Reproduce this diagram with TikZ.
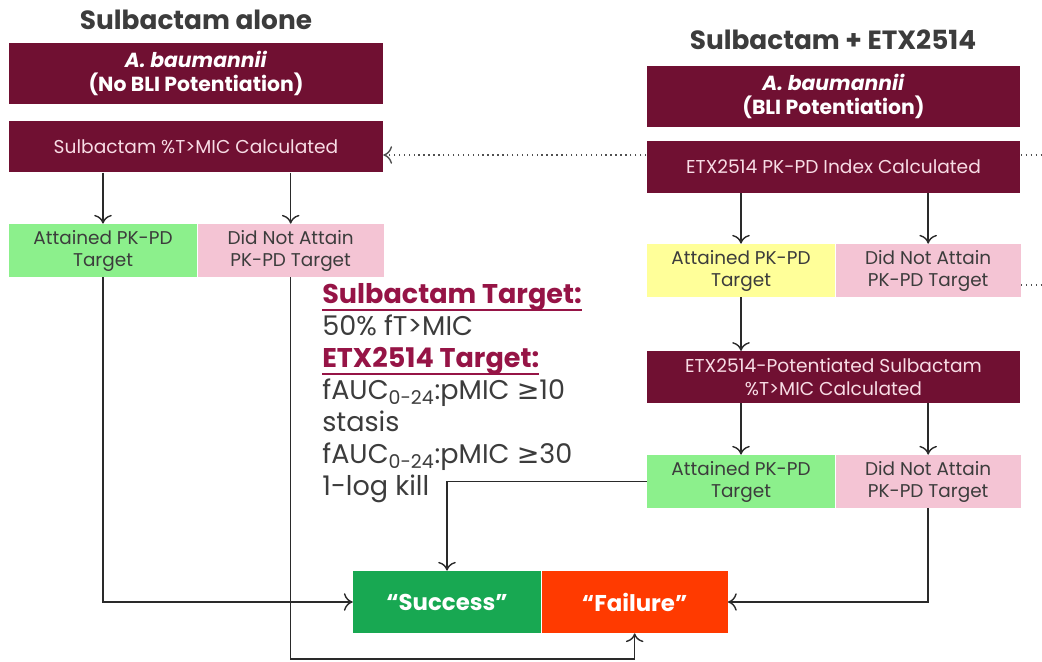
\documentclass[tikz,border=0pt]{standalone}
\usepackage{fontspec}
\setmainfont{Poppins}
\newfontfamily\symfont{DejaVu Sans}
\usetikzlibrary{positioning, arrows.meta}

\newlength\ulwd
\newcommand\myul[1]{\settowidth\ulwd{#1}\rlap{\rule[-4.5pt]{\ulwd}{1.3pt}}#1}

\definecolor{maroon}{RGB}{112,16,50}
\definecolor{headred}{RGB}{150,20,70}
\definecolor{okgreen}{RGB}{140,240,140}
\definecolor{nopink}{RGB}{244,196,212}
\definecolor{okyellow}{RGB}{255,255,153}
\definecolor{succgreen}{RGB}{24,168,82}
\definecolor{failred}{RGB}{255,58,0}
\definecolor{txtgray}{RGB}{60,60,60}

\begin{document}
\begin{tikzpicture}[
        x=0.02cm, y=-0.02cm,
        title/.style    = {font=\bfseries\fontsize{15}{18}\selectfont, text=txtgray},
        head/.style     = {rectangle, fill=maroon, text=white, minimum width=7.48cm,
                           minimum height=1.22cm, align=center, inner sep=1pt,
                           font=\bfseries\fontsize{11.6}{14}\selectfont},
        calc/.style     = {rectangle, fill=maroon, text=nopink!60!white, minimum width=7.48cm,
                           minimum height=1.03cm, align=center, inner sep=1pt,
                           font=\fontsize{10.6}{13}\selectfont},
        result/.style   = {rectangle, text=txtgray, minimum height=1.06cm, align=center,
                           inner sep=1pt, font=\fontsize{10.5}{12.5}\selectfont},
        outcome/.style  = {rectangle, text=white, minimum height=1.24cm, align=center,
                           font=\bfseries\fontsize{13}{16}\selectfont},
        line/.style     = {draw, thick, txtgray!70!black, -{To[length=5pt,width=10pt]}},
        dotline/.style  = {draw, thick, dotted, txtgray!90!white}
    ]
        \useasboundingbox (0,0) rectangle (1042,662);

        % left column
        \node [title] (t1) at (196,20) {Sulbactam alone};
        \node [head] (ab1) at (196,73.5) {\textit{A. baumannii}\\(No BLI Potentiation)};
        \node [calc] (calc1) at (196,146.5) {Sulbactam \%T>MIC Calculated};
        \node [result, fill=okgreen, minimum width=3.76cm] (att1) at (103,250.5) {Attained PK-PD\\Target};
        \node [result, fill=nopink, minimum width=3.72cm, right=0pt of att1] (dna1) {Did Not Attain\\PK-PD Target};

        % right column
        \node [title] (t2) at (833,40) {Sulbactam + ETX2514};
        \node [head] (ab2) at (833.5,96.5) {\textit{A. baumannii}\\(BLI Potentiation)};
        \node [calc] (etx) at (833.5,167) {ETX2514 PK-PD Index Calculated};
        \node [result, fill=okyellow, minimum width=3.76cm] (att2) at (741,270.5) {Attained PK-PD\\Target};
        \node [result, fill=nopink, minimum width=3.70cm, right=0pt of att2] (dna2) {Did Not Attain\\PK-PD Target};
        \node [calc] (pot) at (833.5,377) {ETX2514-Potentiated Sulbactam\\\%T>MIC Calculated};
        \node [result, fill=okgreen, minimum width=3.76cm] (att3) at (741,481.5) {Attained PK-PD\\Target};
        \node [result, fill=nopink, minimum width=3.70cm, right=0pt of att3] (dna3) {Did Not Attain\\PK-PD Target};

        % outcomes
        \node [outcome, fill=succgreen, minimum width=3.76cm] (succ) at (447,602) {“Success”};
        \node [outcome, fill=failred, minimum width=3.72cm, right=0pt of succ] (fail) {“Failure”};

        % targets
        \node [anchor=north west, align=left, inner sep=0pt, text=txtgray,
               font=\fontsize{15.4}{18.2}\selectfont] (targets) at (322,283)
            {\textcolor{headred}{\bfseries\myul{Sulbactam Target:}}\\
             50\% fT>MIC\\
             \textcolor{headred}{\bfseries\myul{ETX2514 Target:}}\\
             fAUC\textsubscript{0-24}:pMIC {\symfont ≥}10\\
             stasis\\
             fAUC\textsubscript{0-24}:pMIC {\symfont ≥}30\\
             1-log kill};

        \coordinate (lvl)   at (0,155);
        \coordinate (bot)   at (0,659);
        \coordinate (edgeA) at (1042,155);
        \coordinate (edgeB) at (1042,285);

        % arrows
        \path [line] (att1.north |- calc1.south) -- (att1.north);
        \path [line] (dna1.north |- calc1.south) -- (dna1.north);
        \path [line] (att2.north |- etx.south)   -- (att2.north);
        \path [line] (dna2.north |- etx.south)   -- (dna2.north);
        \path [line] (att2.south) -- (att2.south |- pot.north);
        \path [line] (att3.north |- pot.south)   -- (att3.north);
        \path [line] (dna3.north |- pot.south)   -- (dna3.north);
        \path [line] (att1.south) |- (succ.west);
        \path [line] (dna1.south) -- (dna1.south |- bot) -| (fail.south);
        \path [line] (att3.west)  -| (succ.north);
        \path [line] (dna3.south) |- (fail.east);
        \path [dotline, -{To[length=5pt,width=10pt]}] (etx.west |- lvl) -- (calc1.east |- lvl);
        \path [dotline] (etx.east |- edgeA) -- (edgeA);
        \path [dotline] (dna2.east |- edgeB) -- (edgeB);
    \end{tikzpicture}
\end{document}
